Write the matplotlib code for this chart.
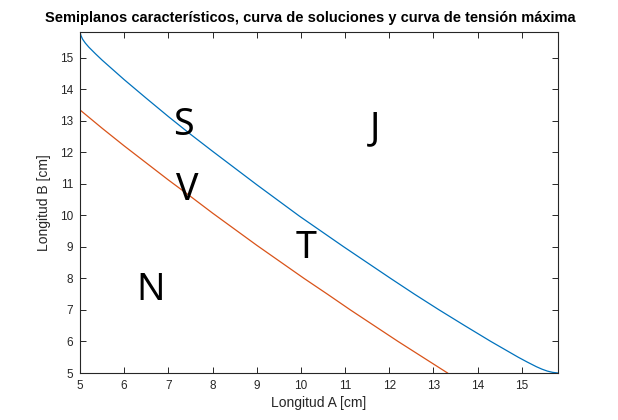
import matplotlib
matplotlib.use('Agg')
import matplotlib.pyplot as plt

# curva de soluciones (azul)
a_sol = [5.0, 5.02, 5.06, 5.12, 5.2, 5.35, 5.5, 5.75, 6.0, 6.5, 7.0, 7.5, 8.0, 9.0,
         9.97, 10.97, 12.03, 12.57, 13.13, 13.71, 14.3, 14.61, 14.92, 15.12, 15.33,
         15.46, 15.58, 15.7, 15.82]
b_sol = [15.82, 15.7, 15.58, 15.46, 15.33, 15.12, 14.92, 14.61, 14.3, 13.71, 13.13,
         12.57, 12.03, 10.97, 9.97, 9.0, 8.0, 7.5, 7.0, 6.5, 6.0, 5.75, 5.5, 5.35,
         5.2, 5.12, 5.06, 5.02, 5.0]

# curva de tension maxima (roja)
a_ten = [5.0, 5.5, 6.0, 6.5, 7.0, 7.5, 8.0, 9.0, 10.07, 10.6, 11.12, 11.66, 12.2, 12.76, 13.32]
b_ten = [13.34, 12.76, 12.2, 11.66, 11.12, 10.6, 10.07, 9.05, 8.0, 7.5, 7.0, 6.5, 6.0, 5.5, 5.0]

# etiquetas de semiplanos
letras = ['S', 'J', 'V', 'T', 'N']
letras_a = [7.34, 11.68, 7.43, 10.12, 6.59]
letras_b = [12.87, 12.77, 10.80, 8.96, 7.63]

plt.rcParams['font.family'] = ['Liberation Sans', 'DejaVu Sans']
gris = '#262626'

fig = plt.figure(figsize=(6.18, 4.2), dpi=100)
ax = fig.add_axes([80 / 618, 47 / 420, 478 / 618, 341.3 / 420])

ax.plot(a_sol, b_sol, color='#0072BD', lw=0.9)
ax.plot(a_ten, b_ten, color='#D95319', lw=0.9)

for t, xa, yb in zip(letras, letras_a, letras_b):
    ax.text(xa, yb, t, fontsize=27, family='Noto Sans', ha='center', va='center', color='black')

ax.set_xlim(5, 15.82)
ax.set_ylim(5, 15.82)
ax.set_xticks(range(5, 16))
ax.set_yticks(range(5, 16))
ax.tick_params(direction='in', top=True, right=True, length=4, width=0.7,
               labelsize=8.5, labelcolor=gris, color=gris, pad=5)
for s in ax.spines.values():
    s.set_linewidth(0.8)
    s.set_color(gris)

ax.set_xlabel('Longitud A [cm]', fontsize=10, color=gris, labelpad=3)
ax.set_ylabel('Longitud B [cm]', fontsize=10, color=gris, labelpad=6)
fig.text(310 / 618, 1 - 18 / 420, 'Semiplanos característicos, curva de soluciones y curva de tensión máxima',
         fontsize=10.5, fontweight='bold', ha='center', va='center', color='black')

fig.savefig('out.png', dpi=100)
